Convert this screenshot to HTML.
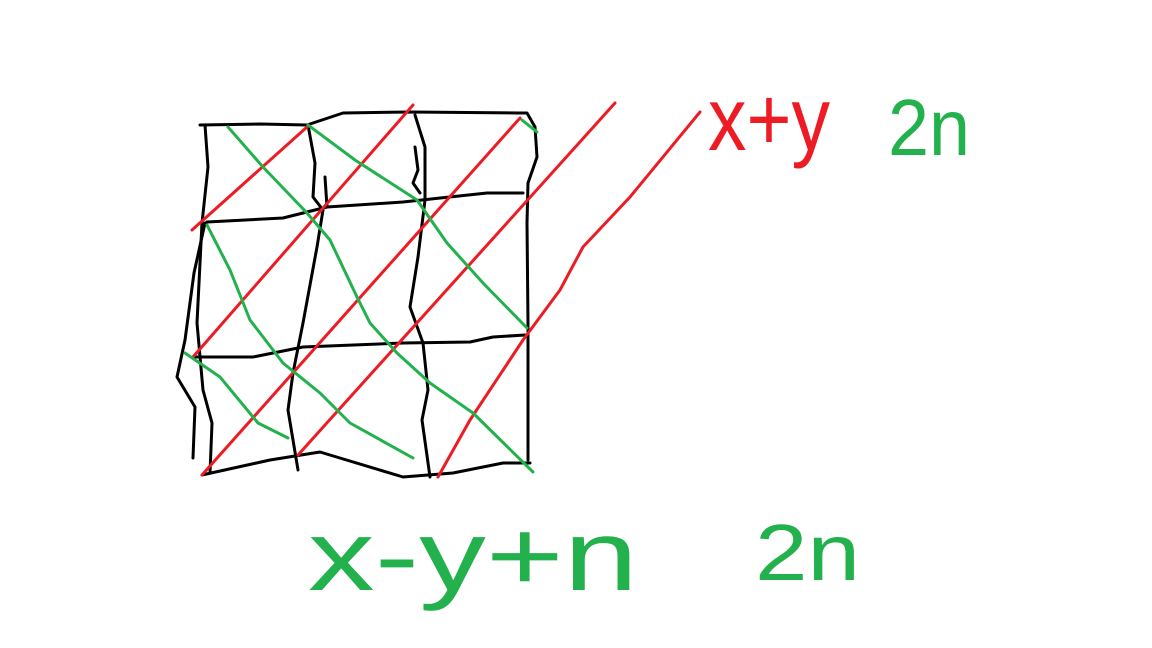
<!DOCTYPE html>
<html><head><meta charset="utf-8"><style>html,body{margin:0;padding:0;background:#fff;width:1152px;height:648px;overflow:hidden}</style></head>
<body>
<svg width="1152" height="648" viewBox="0 0 1152 648" xmlns="http://www.w3.org/2000/svg" fill="none" stroke-width="3" stroke-linecap="round" stroke-linejoin="round">
<g stroke="#000">
<polyline points="200,125 260,124 307,125 343,113 410,112 517,113 527,113 535,127"/>
<polyline points="535,127 537,157 528,183 527,223 528,323 528,460"/>
<polyline points="205,125 208,167 202,223 197,323 203,390 212,423 210,473"/>
<polyline points="205,223 194,273 185,340 177,377 195,407 193,458"/>
<polyline points="207,222 283,218 327,207 403,202 487,193 523,193"/>
<polyline points="195,357 253,357 303,347 403,343 470,342 493,337 525,335"/>
<polyline points="202,475 270,460 320,452 403,477 453,473 503,463 530,463"/>
<polyline points="308,125 315,163 313,197 323,210 317,247 303,323 293,373 288,410 298,470"/>
<polyline points="325,177 327,207"/>
<polyline points="415,115 425,147 425,200 418,257 410,307 423,343 428,390 422,420 430,477"/>
<polyline points="415,147 418,170 413,183 420,193"/>
</g>
<g stroke="#ed1c24">
<polyline points="192,230 307,127"/>
<polyline points="193,357 413,105"/>
<polyline points="202,475 520,118"/>
<polyline points="298,455 615,103"/>
<polyline points="438,477 470,420 523,340 560,290 583,247 630,197 700,112"/>
</g>
<g stroke="#22b14c">
<polyline points="228,127 263,167 307,213 330,240 357,297 370,323 397,353 430,383 473,413 533,472"/>
<polyline points="308,125 355,160 417,200 447,243 483,283 527,328"/>
<polyline points="207,225 230,270 250,320 283,363 320,393 350,423 413,458"/>
<polyline points="185,353 220,377 258,423 288,438"/>
<polyline points="522,120 537,132"/>
</g>
<text x="708" y="150" fill="#ed1c24" stroke="none" font-family="Liberation Sans, sans-serif" font-size="90" textLength="122" lengthAdjust="spacingAndGlyphs">x+y</text>
<text x="888" y="155" fill="#22b14c" stroke="none" font-family="Liberation Sans, sans-serif" font-size="80" textLength="82" lengthAdjust="spacingAndGlyphs">2n</text>
<text x="308" y="590" fill="#22b14c" stroke="none" font-family="Liberation Sans, sans-serif" font-size="100" textLength="330" lengthAdjust="spacingAndGlyphs">x-y+n</text>
<text x="755" y="580" fill="#22b14c" stroke="none" font-family="Liberation Sans, sans-serif" font-size="80" textLength="105" lengthAdjust="spacingAndGlyphs">2n</text>
</svg>
</body></html>
